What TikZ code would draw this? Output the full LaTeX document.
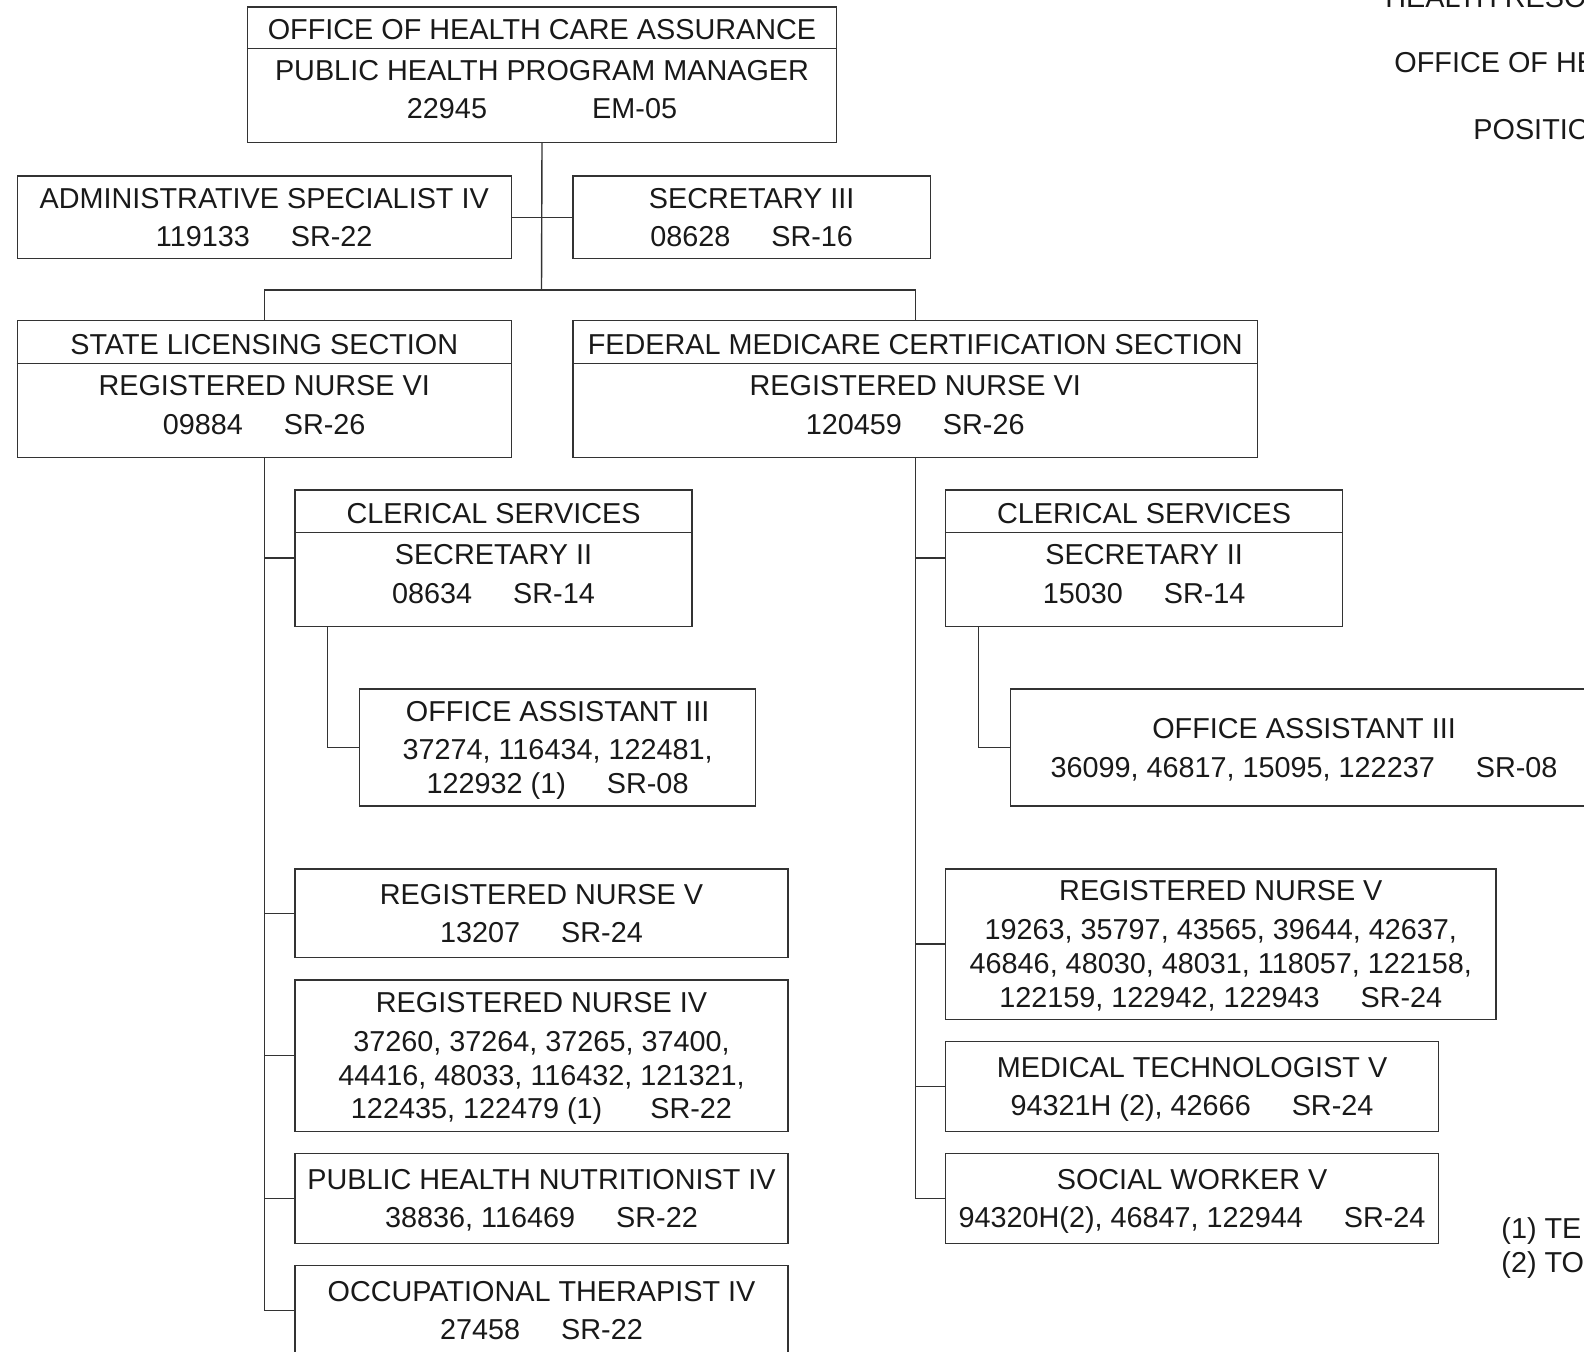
\documentclass[tikz,border=0pt]{standalone}
\usepackage{fontspec}
\setmainfont{Liberation Sans}
\newcommand\orgfont{\fontsize{14.4}{16.9}\selectfont}
\newcommand\gap{\hspace{20.5pt}}
% last line of a box: no depth, so commas and brackets do not lift the text
\newcommand\lastline[1]{\raisebox{0pt}[\height][0pt]{#1}}
\tikzset{
  post/.style={draw=black!80, line width=0.7pt, inner sep=0pt, align=center,
    font=\orgfont, text=black!90},
  dims/.style 2 args={minimum width=#1*0.5pt, minimum height=#2*0.5pt},
  lbl/.style={inner sep=0pt, align=center, font=\orgfont, text=black!90},
  link/.style={draw=black!80, line width=0.7pt},
}
\begin{document}
\begin{tikzpicture}[x=0.5pt,y=-0.5pt]
  \useasboundingbox (0,0) rectangle (1584,1351);
  \clip (0,0) rectangle (1584,1351);
  %% head office
  \node[post,dims={588.9}{135.3}] (ohca) at (542,74.75) {};
  \node[lbl] (ohcaT) at (542,30) {OFFICE OF HEALTH CARE ASSURANCE};
  \node[lbl] (ohcaB) at (542,89.6) {PUBLIC HEALTH PROGRAM MANAGER\\[2.5pt]22945\hspace{52.6pt}EM-05};
  \draw[link] (ohca.west |- 0,48.5) -- (ohca.east |- 0,48.5);
  %% staff
  \node[post,dims={494}{82.8}] (admin) at (264.2,217.2) {ADMINISTRATIVE SPECIALIST IV\\[2pt]119133\gap SR-22};
  \node[post,dims={357.6}{82.8}] (sec3) at (751.6,217.2) {SECRETARY III\\[2pt]08628\gap SR-16};
  \draw[link] (admin.east) -- (sec3.west);
  %% sections
  \node[post,dims={494}{137.4}] (state) at (264.2,388.9) {};
  \node[lbl] (stateT) at (264.2,344.2) {STATE LICENSING SECTION};
  \node[lbl] (stateB) at (264.2,404.8) {REGISTERED NURSE VI\\[2.5pt]09884\gap SR-26};
  \draw[link] (state.west |- 0,363.7) -- (state.east |- 0,363.7);
  \node[post,dims={684.9}{137.4}] (fed) at (915.25,388.9) {};
  \node[lbl] (fedT) at (915.25,344.2) {FEDERAL MEDICARE CERTIFICATION SECTION};
  \node[lbl] (fedB) at (915.25,404.8) {REGISTERED NURSE VI\\[2.5pt]120459\gap SR-26};
  \draw[link] (fed.west |- 0,363.7) -- (fed.east |- 0,363.7);
  \coordinate (bar) at (541.5,289.9);
  \draw[link] (ohca.south) -- (bar);
  \draw[link] (state.north) |- (bar) -| (fed.north);
  %% state licensing
  \node[post,dims={397}{136.3}] (clerL) at (493.5,558.15) {};
  \node[lbl] (clerLT) at (493.5,514) {CLERICAL SERVICES};
  \node[lbl] (clerLB) at (493.5,574) {SECRETARY II\\[2.5pt]08634\gap SR-14};
  \draw[link] (clerL.west |- 0,532.4) -- (clerL.east |- 0,532.4);
  \node[post,dims={396}{117.1}] (oaL) at (557.6,747.55) {OFFICE ASSISTANT III\\[2pt]37274, 116434, 122481,\\\lastline{122932 (1)\gap SR-08}};
  \node[post,dims={493}{88.9}] (rn5L) at (541.5,913.25) {REGISTERED NURSE V\\[2pt]13207\gap SR-24};
  \node[post,dims={493}{151.5}] (rn4L) at (541.5,1055.65) {REGISTERED NURSE IV\\[2.5pt]37260, 37264, 37265, 37400,\\44416, 48033, 116432, 121321,\\\lastline{122435, 122479 (1)\hspace{24pt}SR-22}};
  \node[post,dims={493}{90}] (phn) at (541.5,1198.6) {PUBLIC HEALTH NUTRITIONIST IV\\[2pt]\lastline{38836, 116469\gap SR-22}};
  \node[post,dims={493}{90}] (ot) at (541.5,1310.75) {OCCUPATIONAL THERAPIST IV\\[2pt]27458\gap SR-22};
  \draw[link] (state.south) |- (ot.west);
  \foreach \n in {clerL,rn5L,rn4L,phn}
    \draw[link] (state.south |- \n.west) -- (\n.west);
  \draw[link] (clerL.south west) ++(33.3,0) |- (oaL.west);
  %% federal certification
  \node[post,dims={397}{136.3}] (clerR) at (1144.1,558.15) {};
  \node[lbl] (clerRT) at (1144.1,514) {CLERICAL SERVICES};
  \node[lbl] (clerRB) at (1144.1,574) {SECRETARY II\\[2.5pt]15030\gap SR-14};
  \draw[link] (clerR.west |- 0,532.4) -- (clerR.east |- 0,532.4);
  \node[post,dims={587.6}{117.1}] (oaR) at (1304,747.55) {OFFICE ASSISTANT III\\[2.5pt]\lastline{36099, 46817, 15095, 122237\gap SR-08}};
  \node[post,dims={550.5}{150.5}] (rn5R) at (1220.85,944.05) {REGISTERED NURSE V\\[2.5pt]19263, 35797, 43565, 39644, 42637,\\46846, 48030, 48031, 118057, 122158,\\\lastline{122159, 122942, 122943\gap SR-24}};
  \node[post,dims={492.9}{89.9}] (mt5) at (1192.05,1086.45) {MEDICAL TECHNOLOGIST V\\[2pt]\lastline{94321H (2), 42666\gap SR-24}};
  \node[post,dims={492.9}{90}] (sw5) at (1192.05,1198.6) {SOCIAL WORKER V\\[2pt]\lastline{94320H(2), 46847, 122944\gap SR-24}};
  \draw[link] (fed.south) |- (sw5.west);
  \foreach \n in {clerR,rn5R,mt5}
    \draw[link] (fed.south |- \n.west) -- (\n.west);
  \draw[link] (clerR.south west) ++(33.3,0) |- (oaR.west);
  %% title and notes
  \node[lbl,anchor=west] (title1) at (1385,-2.5) {HEALTH RESO};
  \node[lbl,anchor=west] (title2) at (1394,62.3) {OFFICE OF HE};
  \node[lbl,anchor=west] (title3) at (1473,129.4) {POSITIO};
  \node[lbl,anchor=west] (note1) at (1501,1231.5) {(1) TE};
  \node[lbl,anchor=west] (note2) at (1501,1265) {(2) TO};
\end{tikzpicture}
\end{document}
